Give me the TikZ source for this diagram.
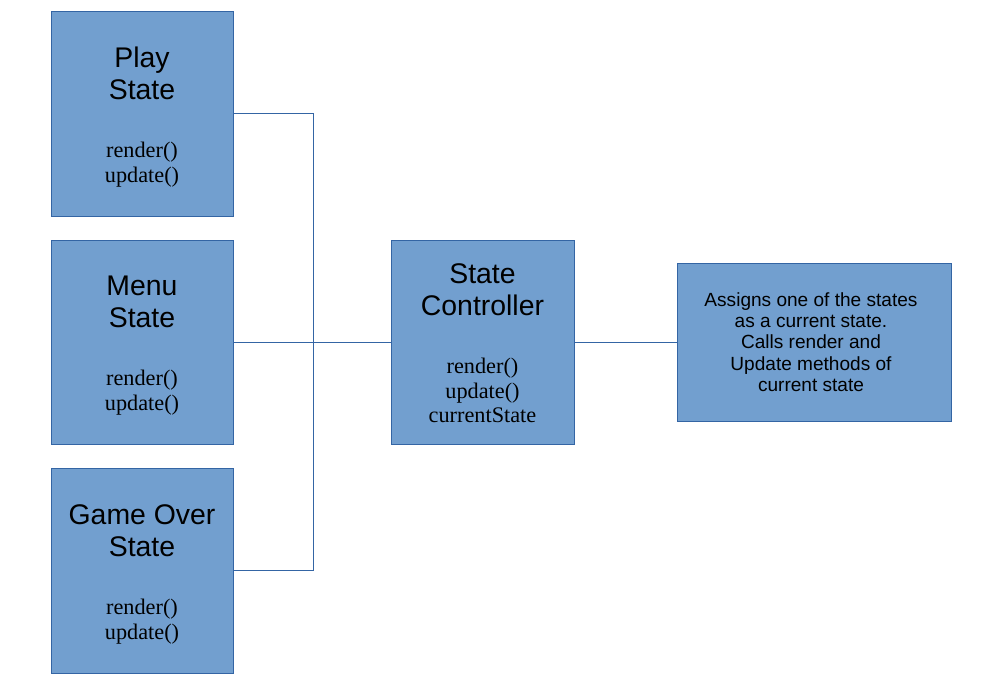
\documentclass[tikz,border=0pt]{standalone}
\usepackage{fontspec}
\setmainfont{Liberation Serif}
\setsansfont{Liberation Sans}
\definecolor{boxfill}{HTML}{729FCF}
\definecolor{boxline}{HTML}{3465A4}
\begin{document}
\begin{tikzpicture}[x=0.75pt,y=-0.75pt,
  box/.style={draw=boxline,fill=boxfill,line width=0.75pt,rectangle,inner sep=0pt},
  title/.style={font=\sffamily\fontsize{21.3}{25}\selectfont,align=center,anchor=base,inner sep=0pt,text=black},
  meth/.style={font=\rmfamily\fontsize{16.7}{18.5}\selectfont,align=center,anchor=base,inner sep=0pt,text=black},
  note/.style={font=\sffamily\fontsize{14.3}{16}\selectfont,align=center,anchor=base,inner sep=0pt,text=black},
  conn/.style={draw=boxline,line width=0.75pt}]
\useasboundingbox (0,0) rectangle (1000,687);
% boxes
\node[box,minimum width=136.5pt,minimum height=153.75pt] (play) at (142,113.5) {};
\node[box,minimum width=136.5pt,minimum height=153pt] (menu) at (142,342) {};
\node[box,minimum width=136.5pt,minimum height=153.75pt] (go) at (142,570.5) {};
\node[box,minimum width=137.25pt,minimum height=153pt] (ctrl) at (482.5,342) {};
\node[box,minimum width=205.5pt,minimum height=118.5pt] (note) at (814,342) {};
% texts
\node[title] (t1) at (142,67) {Play};
\node[title] (t2) at (142,99) {State};
\node[meth] (m1) at (142,157) {render()};
\node[meth] (m2) at (142,182) {update()};
\node[title] (t3) at (142,295) {Menu};
\node[title] (t4) at (142,327) {State};
\node[meth] (m3) at (142,385) {render()};
\node[meth] (m4) at (142,410) {update()};
\node[title] (t5) at (142,524) {Game Over};
\node[title] (t6) at (142,556) {State};
\node[meth] (m5) at (142,614) {render()};
\node[meth] (m6) at (142,639) {update()};
\node[title] (t7) at (482.5,283) {State};
\node[title] (t8) at (482.5,315) {Controller};
\node[meth] (m7) at (482.5,373) {render()};
\node[meth] (m8) at (482.5,398) {update()};
\node[meth] (m9) at (482.5,422) {currentState};
\node[note] (n1) at (811,306) {Assigns one of the states};
\node[note] (n2) at (811,327) {as a current state.};
\node[note] (n3) at (811,348) {Calls render and};
\node[note] (n4) at (811,370) {Update methods of};
\node[note] (n5) at (811,391) {current state};
% connectors
\coordinate (bus) at (313,342);
\draw[conn] (play.east) -- (play.east -| bus) -- (go.east -| bus) -- (go.east);
\draw[conn] (menu.east) -- (ctrl.west);
\draw[conn] (ctrl.east) -- (note.west);
\end{tikzpicture}
\end{document}
